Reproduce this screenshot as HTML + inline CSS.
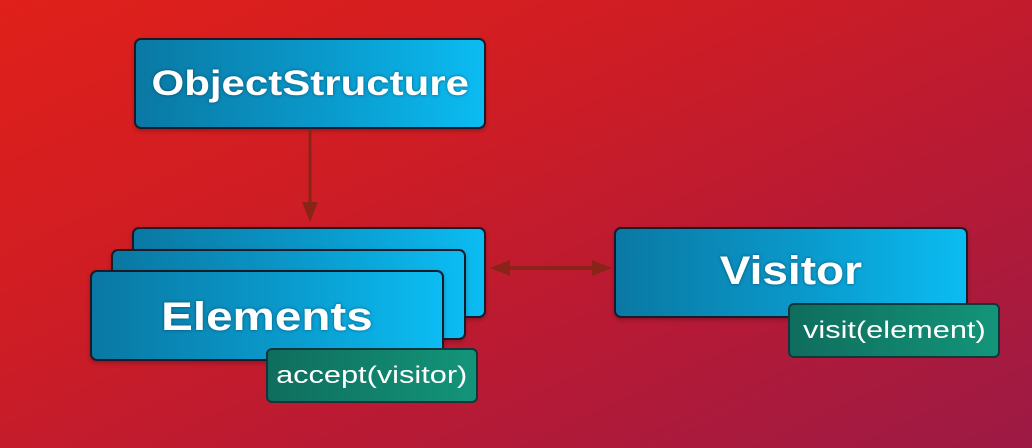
<!DOCTYPE html>
<html><head><style>
html,body{margin:0;padding:0}
body{width:1032px;height:448px;position:relative;overflow:hidden;
background:linear-gradient(155deg,#e0201a 0%,#cf1d24 35%,#b81a34 65%,#9c1a45 100%);
font-family:"Liberation Sans",sans-serif;}
.b{position:absolute;box-sizing:border-box;border:2px solid #1a1a28;border-radius:7px;
background:linear-gradient(90deg,#0a78a3 0%,#0a9acc 55%,#0bbcf2 100%);color:#fff;
display:flex;align-items:center;justify-content:center;font-weight:bold;
text-shadow:0 0 3px rgba(0,40,60,.6);box-shadow:0 2px 4px rgba(0,0,0,.25)}
.g{position:absolute;box-sizing:border-box;border:2px solid #12373a;border-radius:6px;
background:linear-gradient(90deg,#0f6d5d,#13957a);color:#fff;display:flex;align-items:center;justify-content:center;font-size:24px;}
span{display:inline-block;white-space:nowrap}
</style></head><body>
<div class="b" style="left:134px;top:38px;width:352px;height:91px;font-size:35px;"><span style="transform:scaleX(1.2)">ObjectStructure</span></div>
<svg style="position:absolute;left:0;top:0" width="1032" height="448">
<line x1="310" y1="130" x2="310" y2="214" stroke="#8a2418" stroke-width="3"/>
<polygon points="302,202 318,202 310,222" fill="#8a2418"/>
<line x1="500" y1="268" x2="600" y2="268" stroke="#8a2418" stroke-width="4"/>
<polygon points="490,268 510,260 510,276" fill="#8a2418"/>
<polygon points="612,268 592,260 592,276" fill="#8a2418"/>
</svg>
<div class="b" style="left:132px;top:227px;width:354px;height:91px;"></div>
<div class="b" style="left:111px;top:249px;width:355px;height:91px;"></div>
<div class="b" style="left:90px;top:270px;width:354px;height:91px;font-size:40px;padding-top:4px;"><span style="transform:scaleX(1.19)">Elements</span></div>
<div class="g" style="left:266px;top:348px;width:212px;height:55px;"><span style="transform:scaleX(1.28)">accept(visitor)</span></div>
<div class="b" style="left:614px;top:227px;width:354px;height:91px;font-size:40px;padding-bottom:2px;"><span style="transform:scaleX(1.15)">Visitor</span></div>
<div class="g" style="left:788px;top:303px;width:212px;height:55px;"><span style="transform:scaleX(1.28)">visit(element)</span></div>
</body></html>
